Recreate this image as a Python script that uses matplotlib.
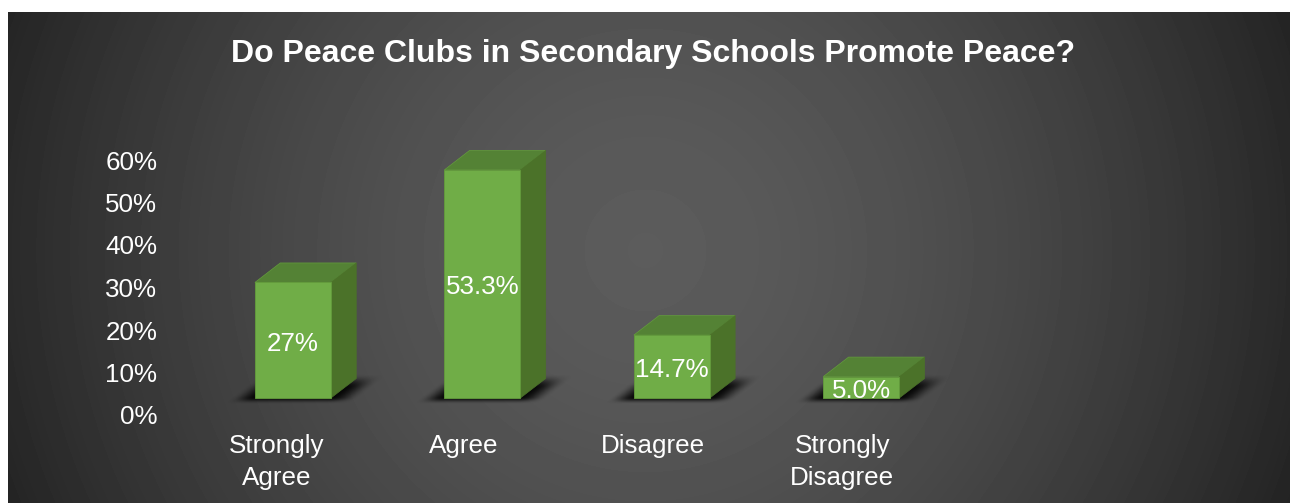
import matplotlib
matplotlib.use('Agg')
import matplotlib.pyplot as plt
from matplotlib.patches import Polygon
from matplotlib.transforms import ScaledTranslation
import numpy as np

plt.rcParams['font.family'] = ['Liberation Sans', 'DejaVu Sans']

title = 'Do Peace Clubs in Secondary Schools Promote Peace?'
categories = ['Strongly\nAgree', 'Agree', 'Disagree', 'Strongly\nDisagree']
values = [27.0, 53.3, 14.7, 5.0]
value_labels = ['27%', '53.3%', '14.7%', '5.0%']
y_ticks = [0, 10, 20, 30, 40, 50, 60]

W, H = 1290, 503
DPI = 100
FRONT = '#70ad47'
TOP = '#548235'
SIDE = '#4b7229'
EDGE = '#639c3c'


def px_axes(fig, left, right, top, bottom):
    # axes placed by pixel edges, y counted from the top of the figure
    return fig.add_axes([left / W, 1 - bottom / H, (right - left) / W, (bottom - top) / H])


def ramp(t):
    t = np.clip(t, 0, 1)
    return t * t * (3 - 2 * t)


fig = plt.figure(figsize=(W / DPI, H / DPI), dpi=DPI, facecolor='white')

# dark radial backdrop
bg = px_axes(fig, 8, 1290, 12, 503)
yy, xx = np.mgrid[12:503, 8:1290]
dist = np.hypot(xx - 645, yy - 250) / 660
shade = 0.36 - 0.205 * np.clip(dist, 0, 1.05) ** 1.6
bg.imshow(shade, cmap='gray', vmin=0, vmax=1, aspect='auto', interpolation='bilinear')
bg.axis('off')

# the bars sit on a floor a bit above the printed axis
ax = px_axes(fig, 198.2, 956, 141.2, 398)
ax.patch.set_alpha(0)
ax.set_xlim(-0.5, 3.5)
ax.set_ylim(0, 60)
ax.axis('off')

bar_w = 76 / 189.4
dx = 25.3 / 189.4    # depth in x units
dy = 19.5 / 4.28     # depth in y units

xpos = np.arange(len(values))

# soft floor shadow behind every bar
for x in xpos:
    left = x - bar_w / 2
    right = x + bar_w / 2
    ext = [left - 0.2, right + 0.36, -2, 7]
    gy, gx = np.mgrid[0:70, 0:220]
    u = ext[0] + (gx + 0.5) / 220 * (ext[1] - ext[0])
    v = ext[3] - (gy + 0.5) / 70 * (ext[3] - ext[2])
    shear = u - v * dx / dy
    a = ramp((shear - (left - 0.13)) / 0.13) * ramp((right + 0.14 - shear) / 0.14)
    b = ramp((v + 1.3) / 1.6) * ramp((5.6 - v) / 3.2)
    rgba = np.zeros((70, 220, 4))
    rgba[..., 3] = a * b * 0.9
    ax.imshow(rgba, extent=ext, aspect='auto', zorder=1, clip_on=False, interpolation='bilinear')
ax.set_xlim(-0.5, 3.5)
ax.set_ylim(0, 60)

bars = ax.bar(xpos, values, width=bar_w, color=FRONT, edgecolor=EDGE, linewidth=0.6,
              zorder=3, clip_on=False)

for x, v, lab in zip(xpos, values, value_labels):
    left = x - bar_w / 2
    right = x + bar_w / 2
    ax.add_patch(Polygon([(left, v), (right, v), (right + dx, v + dy), (left + dx, v + dy)],
                         facecolor=TOP, edgecolor=EDGE, linewidth=0.5, zorder=2, clip_on=False))
    ax.add_patch(Polygon([(right, 0), (right + dx, dy), (right + dx, v + dy), (right, v)],
                         facecolor=SIDE, edgecolor=SIDE, linewidth=0.5, zorder=2, clip_on=False))
    ax.annotate(lab, (x, v / 2), xytext=(0, -2.4), textcoords='offset points', color='white',
                fontsize=18.7, ha='center', va='center', zorder=4, annotation_clip=False)

# value axis and category names, no axis lines
ticks = px_axes(fig, 179.2, 937, 160, 415)
ticks.patch.set_alpha(0)
ticks.set_xlim(-0.5, 3.5)
ticks.set_ylim(0, 60)
for s in ticks.spines.values():
    s.set_visible(False)
ticks.set_xticks(xpos)
ticks.set_xticklabels(categories, linespacing=1.42)
ticks.set_yticks(y_ticks)
ticks.set_yticklabels([f'{t}%' for t in y_ticks])
ticks.tick_params(axis='both', length=0, labelcolor='white', labelsize=18.7)
ticks.tick_params(axis='x', pad=13.5)
ticks.tick_params(axis='y', pad=15.8)

# first category name sits slightly right of its slot
first = ticks.get_xticklabels()[0]
first.set_transform(first.get_transform() + ScaledTranslation(3 / DPI, 0, fig.dpi_scale_trans))

fig.text(653.5 / W, 1 - 54 / H, title, color='white', fontsize=23.05, fontweight='bold',
         ha='center', va='center')

fig.savefig('out.png', dpi=DPI)
plt.close(fig)
